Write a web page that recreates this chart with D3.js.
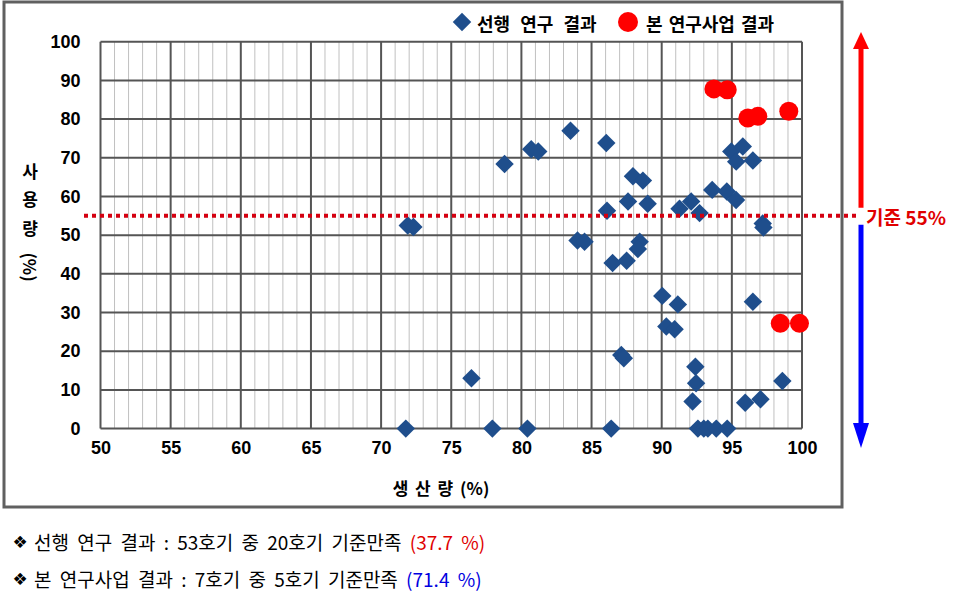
<!DOCTYPE html>
<html><head><meta charset="utf-8">
<script src="https://cdn.jsdelivr.net/npm/d3@7"></script>
<style>
html,body{margin:0;padding:0;background:#fff;}
svg{display:block;font-family:"Noto Sans CJK KR","Liberation Sans",sans-serif;}
</style></head>
<body><svg id="chart" width="973" height="602"></svg>
<script>
// ---- data ----
const prevX = [71.9,72.3,78.8,80.7,81.2,83.5,86.05,86.1,84.0,84.5,86.5,87.5,87.95,88.66,87.6,89.0,91.27,92.1,92.7,93.6,94.64,95.3,94.96,95.78,95.31,96.5,97.2,97.25,88.43,88.3,90.04,91.15,96.5,90.33,90.92,87.12,87.3,92.4,92.45,92.2,98.6,95.95,97.04,86.4,92.58,93.0,93.29,93.89,94.67,76.44,71.76,77.93,80.43];
const prevY = [52.5,52.1,68.4,72.2,71.6,77.0,73.8,56.3,48.6,48.3,42.8,43.4,65.2,64.1,58.7,58.1,56.8,58.7,55.7,61.7,61.3,59.1,71.6,72.9,69.0,69.3,53.0,52.0,48.3,46.4,34.3,32.1,32.8,26.4,25.7,19.0,18.2,16.0,11.7,7.0,12.3,6.7,7.6,0,0,0,0,0,0,13.0,0,0,0];
const thisX = [93.72,94.67,96.14,96.85,99.06,98.45,99.82];
const thisY = [87.8,87.6,80.3,80.7,82.0,27.2,27.2];
const xTicks = [50,55,60,65,70,75,80,85,90,95,100];
const yTicks = [0,10,20,30,40,50,60,70,80,90,100];
const threshold = 55;
const legendLabels = ["선행 연구 결과","본 연구사업 결과"];
const yTitleChars = ["사","용","량"];
const xTitle = "생 산 량 (%)";
const thresholdLabel = "기준 55%";
const note1 = ["선행 연구 결과 : 53호기 중 20호기 기준만족 ","(37.7 %)"];
const note2 = ["본 연구사업 결과 : 7호기 중 5호기 기준만족 ","(71.4 %)"];

const svg = d3.select("#chart");
const x = d3.scaleLinear().domain([50,100]).range([100.5,802]);
const y = d3.scaleLinear().domain([0,100]).range([428.6,41.7]);

// outer frame
svg.append("rect").attr("x",4).attr("y",2).attr("width",838).attr("height",505)
  .attr("fill","#fff").attr("stroke","#606060").attr("stroke-width",3);

// grid
const g = svg.append("g");
const minor = d3.range(51,100).filter(v=>v%5!==0);
g.selectAll(".vmin").data(minor).join("line")
  .attr("x1",d=>x(d)).attr("x2",d=>x(d)).attr("y1",y(0)).attr("y2",y(100))
  .attr("stroke","#c0c0c0").attr("stroke-width",1);
g.selectAll(".vmaj").data(xTicks).join("line")
  .attr("x1",d=>x(d)).attr("x2",d=>x(d)).attr("y1",y(0)).attr("y2",y(100))
  .attr("stroke","#555").attr("stroke-width",2);
g.selectAll(".hmaj").data(yTicks).join("line")
  .attr("x1",x(50)).attr("x2",x(100)).attr("y1",d=>y(d)).attr("y2",d=>y(d))
  .attr("stroke","#555").attr("stroke-width",2);

// axes labels via d3 axes
const yAxis = svg.append("g").attr("transform",`translate(${x(50)},0)`)
  .call(d3.axisLeft(y).tickValues(yTicks).tickSize(0).tickPadding(20));
yAxis.select(".domain").remove();
yAxis.selectAll("text").attr("font-family","Liberation Sans, Arial, sans-serif")
  .attr("font-weight","bold").attr("font-size",18).attr("fill","#000");
const xAxis = svg.append("g").attr("transform",`translate(0,${y(0)})`)
  .call(d3.axisBottom(x).tickValues(xTicks).tickSize(0).tickPadding(13));
xAxis.select(".domain").remove();
xAxis.selectAll("text").attr("font-family","Liberation Sans, Arial, sans-serif")
  .attr("font-weight","bold").attr("font-size",18).attr("fill","#000");

// axis titles
const ty = [170,198,227];
yTitleChars.forEach((c,i)=>{
  svg.append("text").attr("x",30).attr("y",ty[i]).attr("text-anchor","middle")
    .attr("dominant-baseline","central").attr("font-weight","bold").attr("font-size",17).text(c);
});
svg.append("text").attr("transform","translate(30,267) rotate(90)").attr("text-anchor","middle")
  .attr("dominant-baseline","central").attr("font-weight","bold").attr("font-size",17).text("(%)");
svg.append("text").attr("x",441).attr("y",487).attr("text-anchor","middle")
  .attr("dominant-baseline","central").attr("font-weight","bold").attr("font-size",17)
  .attr("word-spacing",3).text(xTitle);

// points
const prev = prevX.map((v,i)=>({x:v,y:prevY[i]}));
const cur = thisX.map((v,i)=>({x:v,y:thisY[i]}));
const sq = d3.symbol().type(d3.symbolSquare).size(170);
svg.append("g").selectAll("path").data(prev).join("path")
  .attr("d",sq).attr("transform",d=>`translate(${x(d.x)},${y(d.y)}) rotate(45)`)
  .attr("fill","#1F4E8C");
svg.append("g").selectAll("circle").data(cur).join("circle")
  .attr("cx",d=>x(d.x)).attr("cy",d=>y(d.y)).attr("r",9.5).attr("fill","#FF0000");

// threshold dotted line
svg.append("line").attr("x1",84).attr("x2",857).attr("y1",y(threshold)).attr("y2",y(threshold))
  .attr("stroke","#D40010").attr("stroke-width",4).attr("stroke-dasharray","4,4");
svg.append("text").attr("x",866).attr("y",y(threshold)+1).attr("dominant-baseline","central")
  .attr("font-weight","bold").attr("font-size",19).attr("fill","#E00000").text(thresholdLabel);

// arrows
const ax = 861;
svg.append("line").attr("x1",ax).attr("x2",ax).attr("y1",y(threshold)-8).attr("y2",46)
  .attr("stroke","#FF0000").attr("stroke-width",5);
svg.append("path").attr("d",`M${ax},32 L${ax-8},49 L${ax+8},49 Z`).attr("fill","#FF0000");
svg.append("line").attr("x1",ax).attr("x2",ax).attr("y1",y(threshold)+9).attr("y2",426)
  .attr("stroke","#0000FF").attr("stroke-width",5);
svg.append("path").attr("d",`M${ax},448 L${ax-8},423 L${ax+8},423 Z`).attr("fill","#0000FF");

// legend
svg.append("path").attr("d",sq).attr("transform","translate(462,22) rotate(45)").attr("fill","#1F4E8C");
svg.append("text").attr("x",477).attr("y",23).attr("dominant-baseline","central")
  .attr("font-weight","bold").attr("font-size",18).attr("word-spacing",6).text(legendLabels[0]);
svg.append("circle").attr("cx",628).attr("cy",22).attr("r",10).attr("fill","#FF0000");
svg.append("text").attr("x",646).attr("y",23).attr("dominant-baseline","central")
  .attr("font-weight","bold").attr("font-size",18).attr("word-spacing",2).text(legendLabels[1]);

// notes
function note(lines,yy,color){
  svg.append("text").attr("x",20).attr("y",yy+1).attr("text-anchor","middle")
    .attr("dominant-baseline","central").attr("font-family","DejaVu Sans")
    .attr("font-size",17).attr("fill","#000").text("❖");
  const t = svg.append("text").attr("x",34).attr("y",yy).attr("dominant-baseline","central")
    .attr("font-size",19).attr("word-spacing",4).attr("xml:space","preserve");
  t.append("tspan").attr("fill","#000").text(lines[0]);
  t.append("tspan").attr("fill",color).text(lines[1]);
}
note(note1,541,"#E00000");
note(note2,578,"#0000E0");
</script></body></html>
